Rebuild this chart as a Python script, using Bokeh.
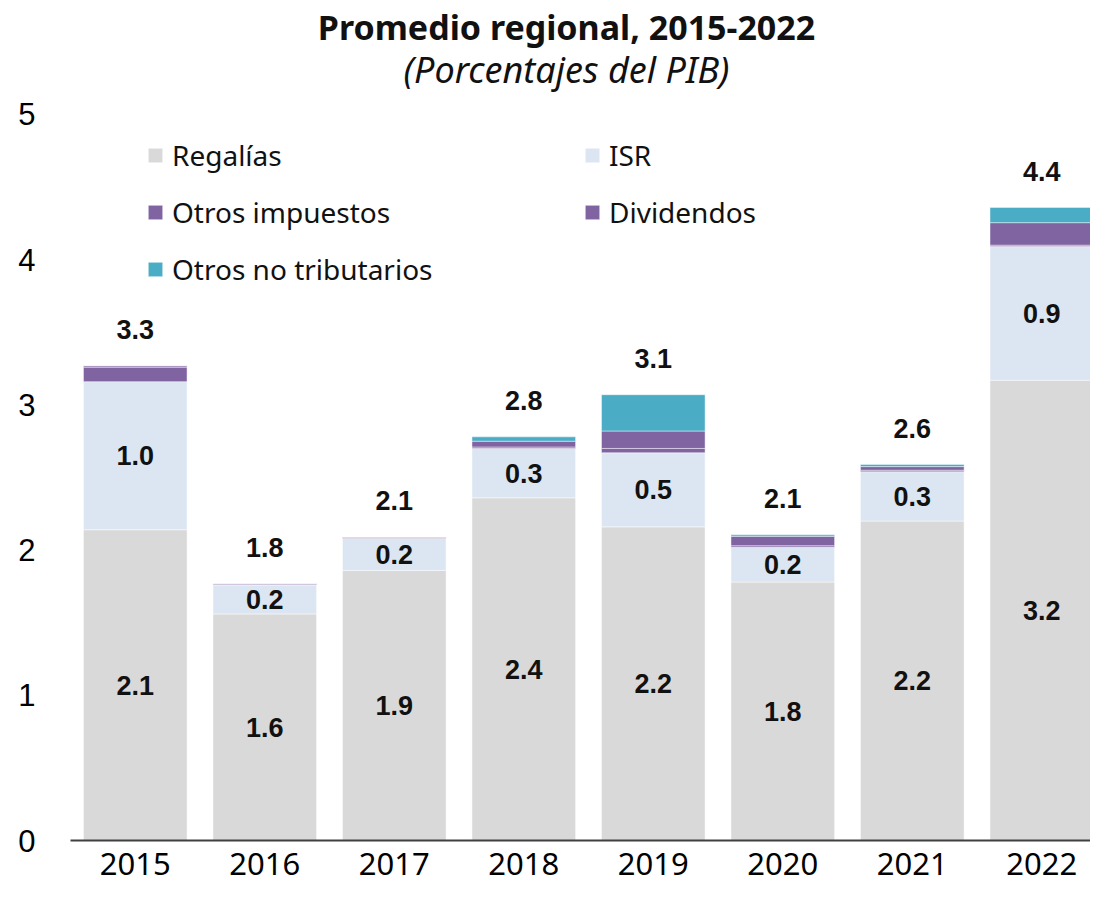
from bokeh.plotting import figure
from bokeh.models import Range1d, ColumnDataSource, Legend, LegendItem, Label, FixedTicker, CustomJSTickFormatter
from bokeh.core.properties import value
from bokeh.embed import file_html
from bokeh.resources import INLINE

years = ["2015", "2016", "2017", "2018", "2019", "2020", "2021", "2022"]
regalias = [2.14, 1.56, 1.86, 2.36, 2.16, 1.78, 2.20, 3.17]
isr = [1.02, 0.20, 0.22, 0.34, 0.51, 0.24, 0.34, 0.92]
otros_impuestos = [0.10, 0.005, 0.005, 0.01, 0.03, 0.01, 0.01, 0.01]
dividendos = [0.01, 0.005, 0.005, 0.04, 0.12, 0.065, 0.025, 0.155]
otros_no_trib = [0.0, 0.0, 0.0, 0.03, 0.25, 0.01, 0.015, 0.105]

series = ["regalias", "isr", "otros_impuestos", "dividendos", "otros_no_trib"]
names = ["Regalías", "ISR", "Otros impuestos", "Dividendos", "Otros no tributarios"]
colors = ["#D9D9D9", "#DCE6F2", "#8064A2", "#8064A2", "#4BACC6"]

x = list(range(len(years)))
totals = [a + b + c + d + e for a, b, c, d, e in zip(regalias, isr, otros_impuestos, dividendos, otros_no_trib)]

src = ColumnDataSource(dict(
    x=x, regalias=regalias, isr=isr, otros_impuestos=otros_impuestos,
    dividendos=dividendos, otros_no_trib=otros_no_trib,
))

W, H = 1090, 888
p = figure(width=W, height=H, output_backend="svg", toolbar_location=None,
           x_range=Range1d(-0.5, 7.376), y_range=Range1d(0, 5.785),
           min_border_left=70, min_border_right=0, min_border_top=0, min_border_bottom=48)
p.outline_line_color = None
p.xgrid.visible = False
p.ygrid.visible = False

renderers = p.vbar_stack(series, x="x", width=0.8, source=src, color=colors,
                         line_color="white", line_alpha=0.45, line_width=1)

num_font = "Liberation Sans"
txt_font = "Noto Sans"

# segment labels
lab_src = ColumnDataSource(dict(
    x=x,
    y_reg=[r / 2 for r in regalias],
    t_reg=["%.1f" % r for r in regalias],
    y_isr=[r + i / 2 for r, i in zip(regalias, isr)],
    t_isr=["%.1f" % i for i in isr],
    y_tot=[t + 0.25 for t in totals],
    t_tot=["%.1f" % t for t in totals],
))
for yc, tc in [("y_reg", "t_reg"), ("y_isr", "t_isr"), ("y_tot", "t_tot")]:
    p.text(x="x", y=yc, text=tc, source=lab_src, text_align="center", text_baseline="middle",
           text_font=value(num_font), text_font_style="bold", text_font_size="27px", text_color="#111111")

# axes
p.yaxis.ticker = FixedTicker(ticks=[0, 1, 2, 3, 4, 5])
p.yaxis.axis_line_color = None
p.yaxis.major_tick_line_color = None
p.yaxis.minor_tick_line_color = None
p.yaxis.major_label_text_font = num_font
p.yaxis.major_label_text_font_size = "31px"
p.yaxis.major_label_text_color = "#000000"
p.yaxis.major_label_standoff = 29

p.xaxis.ticker = FixedTicker(ticks=x)
p.xaxis.formatter = CustomJSTickFormatter(args=dict(labels=years), code="return labels[tick];")
p.xaxis.axis_line_color = "#404040"
p.xaxis.axis_line_width = 2
p.xaxis.major_tick_line_color = None
p.xaxis.minor_tick_line_color = None
p.xaxis.major_label_text_font = txt_font
p.xaxis.major_label_text_font_size = "31px"
p.xaxis.major_label_text_color = "#000000"
p.xaxis.major_label_standoff = 6

# legends
def make_legend(idx, loc):
    items = [LegendItem(label=names[i], renderers=[renderers[i]]) for i in idx]
    lg = Legend(items=items, location=loc, orientation="vertical",
                label_text_font=txt_font, label_text_font_size="28px", label_text_color="#111111",
                glyph_width=18, glyph_height=18, label_height=30, spacing=19, label_standoff=8,
                padding=0, margin=0, border_line_color=None, background_fill_alpha=0)
    p.add_layout(lg)

make_legend([0, 2, 4], (76, 552))
make_legend([1, 3], (513, 609))

# title & subtitle
p.add_layout(Label(x=3.33, y=5.605, text="Promedio regional, 2015-2022", text_align="center",
                   text_baseline="middle", text_font=txt_font, text_font_style="bold",
                   text_font_size="34px", text_color="#111111"))
p.add_layout(Label(x=3.33, y=5.31, text="(Porcentajes del PIB)", text_align="center",
                   text_baseline="middle", text_font=txt_font, text_font_style="italic",
                   text_font_size="36px", text_color="#111111"))

open("out.html", "w").write(file_html(p, INLINE))
